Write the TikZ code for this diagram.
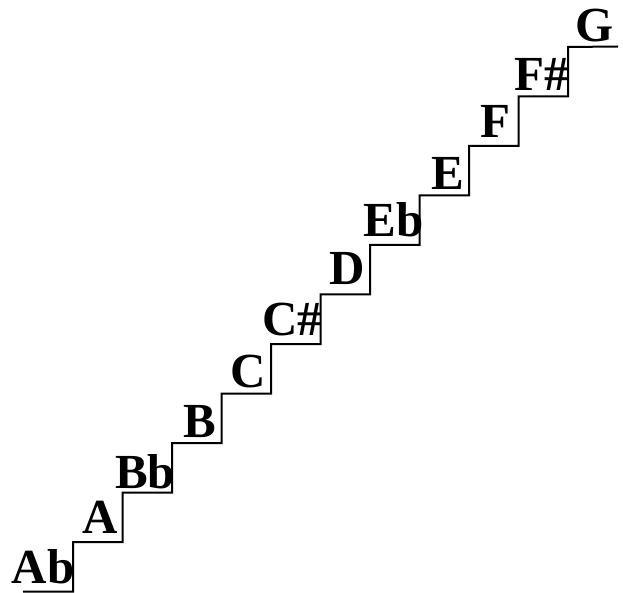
\documentclass[tikz,border=0pt]{standalone}
\usepackage{fontspec}
\setmainfont{Liberation Serif}
\begin{document}
\begin{tikzpicture}[x=1pt,y=-1pt,
  note/.style={font=\fontsize{49}{49}\selectfont\bfseries, anchor=base, inner sep=0pt},
  stair/.style={line width=2pt, line join=miter}]
\useasboundingbox (0,0) rectangle (623,593);
\draw[stair] (23,591.5)
  \foreach \i in {0,...,10} {
    -- ({73+49.5*\i},{591.5-49.5*\i}) -- ({73+49.5*\i},{591.5-49.5*(\i+1)})
  } -- (618,46.5);
\node[note] (ab) at (43,583) {Ab};
\node[note] (a) at (100.5,533) {A};
\node[note] (bb) at (145,488) {Bb};
\node[note] (b) at (200,437) {B};
\node[note] (c) at (248.5,387) {C};
\node[note] (cs) at (292.5,335) {C\#};
\node[note] (d) at (347,285) {D};
\node[note] (eb) at (393.5,237) {Eb};
\node[note] (e) at (447.5,190) {E};
\node[note] (f) at (495,138) {F};
\node[note] (fs) at (542,91) {F\#};
\node[note] (g) at (594.5,42) {G};
\end{tikzpicture}
\end{document}
